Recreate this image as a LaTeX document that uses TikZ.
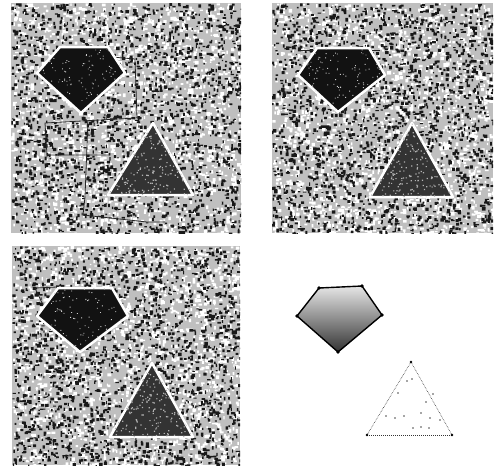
\documentclass[tikz,border=0pt]{standalone}
\usetikzlibrary{calc}
\begin{document}
\begin{tikzpicture}[x=1pt,y=-1pt,
  panelbg/.style={fill=gray!50},
  whitespeck/.style={fill=white},
  blackspeck/.style={fill=black!90},
  darkpent/.style={fill=black!93, draw=white, line width=2.5pt, line join=round},
  darktri/.style={fill=black!80, draw=white, line width=2.5pt, line join=round},
  faintline/.style={draw=black!85, line width=0.8pt},
  lightpent/.style={draw=black, line width=1.4pt, line join=round},
  dottri/.style={draw=black!80, line width=0.6pt, densely dotted},
  vdot/.style={fill=black}
]
\useasboundingbox (0,0) rectangle (495,475);
\fill[white] (0,0) rectangle (495,475);

% ---------- noisy panels ----------
\pgfmathsetseed{1234}
\foreach \X/\Y/\W/\H in {11/3/230/230, 272/3/221/230, 12/246/228/219}{
  \begin{scope}
    \clip (\X,\Y) rectangle ++(\W,\H);
    \fill[panelbg] (\X,\Y) rectangle ++(\W,\H);
    \fill[whitespeck] \foreach \k in {1,...,2000}{
      ({\X+\W*rnd},{\Y+\H*rnd}) rectangle ++({1.2+2.8*rnd},{1.2+2.6*rnd})};
    \fill[blackspeck] \foreach \k in {1,...,2100}{
      ({\X+\W*rnd},{\Y+\H*rnd}) rectangle ++({1+2.6*rnd},{1+2.6*rnd})};
  \end{scope}
}

% ---------- faint lines ----------
\draw[faintline] (112,57) -- (135,59) -- (137,118) -- (45,123) -- (47,155) -- (110,155);
\draw[faintline] (88,120) -- (85,197) -- (83,215) -- (147,222) -- (165,222);
\draw[faintline] (35,288) -- (57,287);
\draw[faintline] (35,288) -- (43,305);
\draw[faintline] (300,50) -- (380,50);

% ---------- top-left shapes ----------
\coordinate (p1a) at (60,47);  \coordinate (p1b) at (108,47); \coordinate (p1c) at (125,73);
\coordinate (p1d) at (81,113); \coordinate (p1e) at (37,73);
\coordinate (t1a) at (153,123); \coordinate (t1b) at (108,195); \coordinate (t1c) at (193,195);
\draw[darkpent] (p1a) -- (p1b) -- (p1c) -- (p1d) -- (p1e) -- cycle;
\draw[darktri] (t1a) -- (t1b) -- (t1c) -- cycle;

% ---------- top-right shapes ----------
\coordinate (p2a) at (317,48);  \coordinate (p2b) at (369,48); \coordinate (p2c) at (385,75);
\coordinate (p2d) at (338,112); \coordinate (p2e) at (298,75);
\coordinate (t2a) at (412,123); \coordinate (t2b) at (370,197); \coordinate (t2c) at (453,197);
\draw[darkpent] (p2a) -- (p2b) -- (p2c) -- (p2d) -- (p2e) -- cycle;
\draw[darktri] (t2a) -- (t2b) -- (t2c) -- cycle;

% ---------- bottom-left shapes ----------
\coordinate (p3a) at (58,288);  \coordinate (p3b) at (112,288); \coordinate (p3c) at (128,316);
\coordinate (p3d) at (80,352);  \coordinate (p3e) at (37,316);
\coordinate (t3a) at (152,363); \coordinate (t3b) at (110,437); \coordinate (t3c) at (193,437);
\draw[darkpent] (p3a) -- (p3b) -- (p3c) -- (p3d) -- (p3e) -- cycle;
\draw[darktri] (t3a) -- (t3b) -- (t3c) -- cycle;

% ---------- speckles inside dark shapes ----------
\foreach \P in {1,2,3}{
  \begin{scope}
    \clip (p\P a) -- (p\P b) -- (p\P c) -- (p\P d) -- (p\P e) -- cycle;
    \fill[white!80!black] \foreach \k in {1,...,160}{
      ($(p\P e|-p\P a)+({92*rnd},{66*rnd})$) rectangle ++(0.9,0.9)};
  \end{scope}
  \begin{scope}
    \clip (t\P a) -- (t\P b) -- (t\P c) -- cycle;
    \fill[gray!60] \foreach \k in {1,...,300}{
      ($(t\P b)+({85*rnd},{-74*rnd})$) rectangle ++(1.2,1.2)};
  \end{scope}
}

% ---------- bottom-right shapes ----------
\coordinate (p4a) at (319,288);  \coordinate (p4b) at (362,286); \coordinate (p4c) at (382,315);
\coordinate (p4d) at (338,352);  \coordinate (p4e) at (297,316);
\coordinate (t4a) at (411,362); \coordinate (t4b) at (367,435); \coordinate (t4c) at (452,435);
\shade[top color=gray!20, middle color=gray!55, bottom color=black!80]
  (p4a) -- (p4b) -- (p4c) -- (p4d) -- (p4e) -- cycle;
\draw[lightpent] (p4a) -- (p4b) -- (p4c) -- (p4d) -- (p4e) -- cycle;
\foreach \v in {p4a,p4b,p4c,p4d,p4e}{\fill[vdot] (\v) circle (1.8);}
\draw[dottri] (t4a) -- (t4b);
\draw[dottri] (t4a) -- (t4c);
\draw[draw=black!80, line width=1pt, densely dotted] (t4b) -- (t4c);
\foreach \v in {t4a,t4b,t4c}{\fill[vdot] (\v) circle (1.3);}
\foreach \q in {(398,393),(404,416),(421,413),(430,418),(426,402),(433,394),(386,416),(395,418),(413,428),(421,427),(429,428),(440,420),(407,381),(412,379)}{
  \fill[black!70] \q circle (0.8);
}
\end{tikzpicture}
\end{document}
